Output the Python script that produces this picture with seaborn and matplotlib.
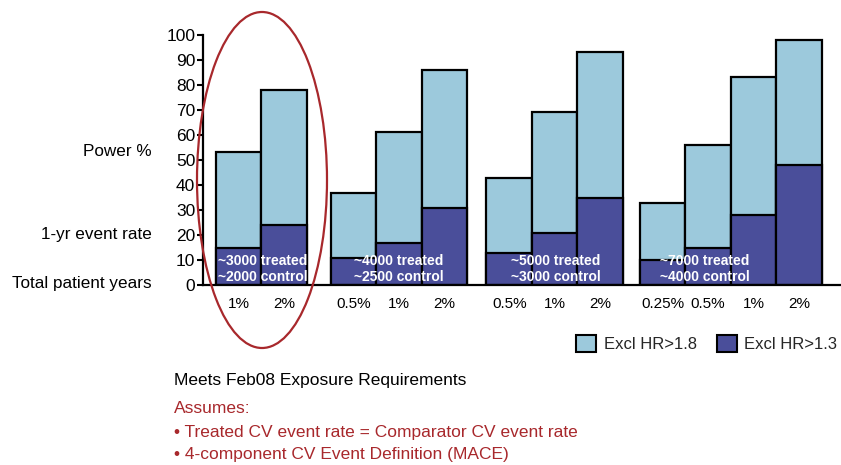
import matplotlib
matplotlib.use("Agg")
import matplotlib.pyplot as plt
import seaborn as sns
import pandas as pd
from matplotlib.patches import Ellipse, Patch

sns.set_theme(style="white")
plt.rcParams['font.family'] = ['Liberation Sans', 'DejaVu Sans']

# Study scenarios: one group per exposure size, one bar per 1-yr event rate
event_rates = ["1%", "2%", "0.5%", "1%", "2%", "0.5%", "1%", "2%",
               "0.25%", "0.5%", "1%", "2%"]
group_sizes = [2, 3, 3, 4]
patient_years = ["~3000 treated\n~2000 control",
                 "~4000 treated\n~2500 control",
                 "~5000 treated\n~3000 control",
                 "~7000 treated\n~4000 control"]
power_hr18 = [53, 78, 37, 61, 86, 43, 69, 93, 33, 56, 83, 98]
power_hr13 = [15, 24, 11, 17, 31, 13, 21, 35, 10, 15, 28, 48]

LIGHT = "#9cc9dc"
DARK = "#4a4e9a"
RED = "#a8282c"

# bar centres (in bar-width units) with a gap between groups
group_starts = [0.78, 3.31, 6.73, 10.10]
label_x = [0.33, 3.32, 6.77, 10.04]
xpos = []
for start, n in zip(group_starts, group_sizes):
    xpos += [round(start + i, 2) for i in range(n)]

df = pd.DataFrame({"x": xpos, "hr18": power_hr18, "hr13": power_hr13})

W, H = 841, 465
fig = plt.figure(figsize=(W / 100, H / 100), dpi=100)
ax = fig.add_axes([203 / W, 180 / H, (840 - 203) / W, 250 / H])

sns.barplot(data=df, x="x", y="hr18", native_scale=True, width=1.0,
            color=LIGHT, saturation=1, edgecolor="black", linewidth=1.6,
            errorbar=None, ax=ax)
sns.barplot(data=df, x="x", y="hr13", native_scale=True, width=1.0,
            color=DARK, saturation=1, edgecolor="black", linewidth=1.6,
            errorbar=None, ax=ax)

ax.set_xlim(0, 14.0)
ax.set_ylim(0, 100)
ax.set_yticks(range(0, 101, 10))
ax.set_xticks(xpos)
ax.set_xticklabels(event_rates)
ax.set_xlabel("")
ax.set_ylabel("")
for side in ("top", "right"):
    ax.spines[side].set_visible(False)
for side in ("left", "bottom"):
    ax.spines[side].set_color("black")
    ax.spines[side].set_linewidth(1.6)
ax.tick_params(axis="y", left=True, length=4.5, width=1.5, color="black",
               labelsize=12.5, labelcolor="black", pad=1)
ax.tick_params(axis="x", bottom=False, length=0, labelsize=11,
               labelcolor="black", pad=9)

# patient-year annotations inside each group
for lx, txt in zip(label_x, patient_years):
    ax.text(lx, 6.4, txt, color="white", fontweight="bold", fontsize=10,
            ha="left", va="center", linespacing=1.2)

# row labels on the left
for label, ypix in [("Power %", 152), ("1-yr event rate", 234),
                    ("Total patient years", 283)]:
    fig.text(152 / W, 1 - ypix / H, label, ha="right", va="center",
             fontsize=12.3, color="black")

# highlight of the first scenario
fig.add_artist(Ellipse((262 / W, 1 - 180 / H), 130 / W, 336 / H,
                       transform=fig.transFigure, fill=False,
                       edgecolor=RED, linewidth=1.6))

handles = [Patch(facecolor=LIGHT, edgecolor="black", linewidth=1.5,
                 label="Excl HR>1.8"),
           Patch(facecolor=DARK, edgecolor="black", linewidth=1.5,
                 label="Excl HR>1.3")]
fig.legend(handles=handles, loc="upper left",
           bbox_to_anchor=(576 / W, 1 - 335 / H), ncol=2, frameon=False,
           fontsize=12, handlelength=1.2, handleheight=1.2,
           handletextpad=0.45, columnspacing=1.2, borderpad=0,
           borderaxespad=0)

fig.text(174 / W, 1 - 380 / H, "Meets Feb08 Exposure Requirements",
         va="center", ha="left", fontsize=12.5, color="black")
for txt, ypix in [("Assumes:", 408),
                  ("\u2022 Treated CV event rate = Comparator CV event rate", 432),
                  ("\u2022 4-component CV Event Definition (MACE)", 454)]:
    fig.text(174 / W, 1 - ypix / H, txt, va="center", ha="left",
             fontsize=12.5, color=RED)

fig.savefig("out.png", dpi=100)
